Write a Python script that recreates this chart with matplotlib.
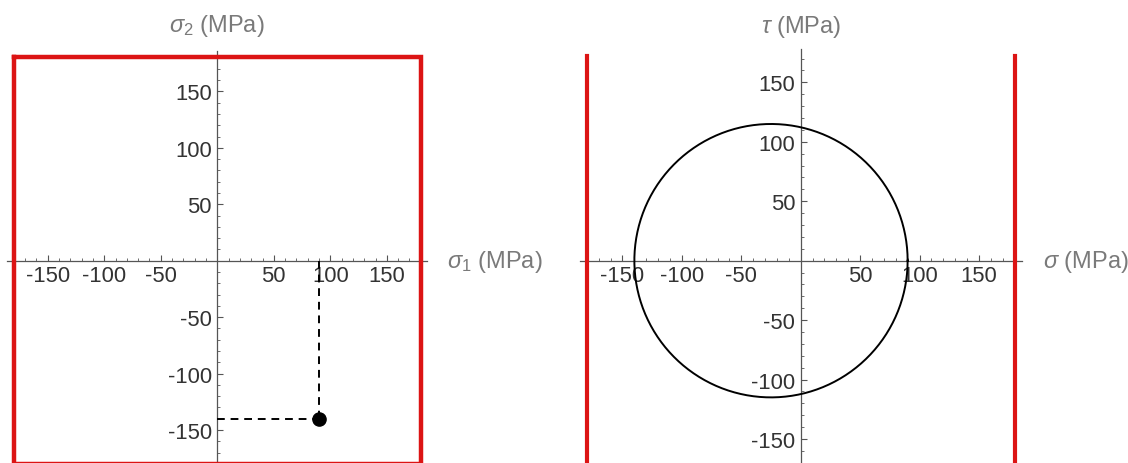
import numpy as np
import matplotlib
matplotlib.use("Agg")
import matplotlib.pyplot as plt
from matplotlib.ticker import FixedLocator

plt.rcParams['font.family'] = ['Liberation Sans', 'DejaVu Sans']
plt.rcParams['mathtext.fontset'] = 'custom'
plt.rcParams['mathtext.rm'] = 'Liberation Sans'
plt.rcParams['mathtext.it'] = 'Liberation Sans:italic'
plt.rcParams['axes.unicode_minus'] = False

# ---- data ----
sigma1 = 90.0          # MPa
sigma2 = -140.0        # MPa
strength = 180.0       # MPa, failure limit (square / vertical lines)
major_ticks = [-150, -100, -50, 50, 100, 150]
minor_ticks = [v for v in range(-180, 181, 10) if v % 50 != 0 and v != 0]
right_line_tau = [-180, 172]

RED = '#dc1414'
AXC = '#555555'
TICKC = '#333333'
LABC = '#7a7a7a'
FS = 15.8
LFS = 17

W, H = 1128, 464
fig = plt.figure(figsize=(W / 100, H / 100), dpi=100)


def px_axes(x0, x1, ytop, ybot):
    return fig.add_axes([x0 / W, (H - ybot) / H, (x1 - x0) / W, (ybot - ytop) / H])


def style(ax):
    for s in ['top', 'right']:
        ax.spines[s].set_visible(False)
    for s in ['left', 'bottom']:
        ax.spines[s].set_position('zero')
        ax.spines[s].set_color(AXC)
        ax.spines[s].set_linewidth(0.9)
    ax.xaxis.set_major_locator(FixedLocator(major_ticks))
    ax.yaxis.set_major_locator(FixedLocator(major_ticks))
    ax.xaxis.set_minor_locator(FixedLocator(minor_ticks))
    ax.yaxis.set_minor_locator(FixedLocator(minor_ticks))
    ax.tick_params(which='major', direction='in', length=4, width=0.8, color=AXC,
                   labelsize=FS, labelcolor=TICKC)
    ax.tick_params(which='minor', direction='in', length=2.2, width=0.6, color=AXC)
    ax.tick_params(axis='x', which='major', pad=3)
    ax.tick_params(axis='y', which='major', pad=4)
    ax.set_facecolor('none')


# ---- left panel: principal stress space ----
ax1 = px_axes(7.1, 427.5, 51.7, 464)
ax1.set_xlim(-186, 186)
ax1.set_ylim(-179.2, 186)
style(ax1)
sq_x = [-strength, strength, strength, -strength, -strength]
sq_y = [strength, strength, -strength, -strength, strength]
ax1.plot(sq_x, sq_y, color=RED, lw=3.2, clip_on=False, zorder=3, solid_joinstyle='miter')
ax1.plot([sigma1, sigma1], [0, sigma2], color='black', lw=1.4, ls=(0, (4, 3)), zorder=4)
ax1.plot([0, sigma1], [sigma2, sigma2], color='black', lw=1.4, ls=(0, (4, 3)), zorder=4)
ax1.plot([sigma1], [sigma2], 'o', color='black', ms=9.5, zorder=5)
ax1.text(0, 208.8, r'$\sigma_2$ (MPa)', ha='center', va='center', fontsize=LFS,
         color=LABC, clip_on=False)
ax1.text(203, 0, r'$\sigma_1$ (MPa)', ha='left', va='center', fontsize=LFS,
         color=LABC, clip_on=False)

# ---- right panel: Mohr circle ----
ax2 = px_axes(579.7, 1021.7, 50.1, 464)
ax2.set_xlim(-186, 186)
ax2.set_ylim(-170.2, 178)
style(ax2)
center = (sigma1 + sigma2) / 2
radius = (sigma1 - sigma2) / 2
th = np.linspace(0, 2 * np.pi, 400)
ax2.plot(center + radius * np.cos(th), radius * np.sin(th), color='black', lw=1.4, zorder=4)
for xv in [-strength, strength]:
    ax2.plot([xv, xv], right_line_tau, color=RED, lw=3.0, zorder=3)
ax2.text(0, 197.4, r'$\tau$ (MPa)', ha='center', va='center', fontsize=LFS,
         color=LABC, clip_on=False)
ax2.text(204, 0, r'$\sigma$ (MPa)', ha='left', va='center', fontsize=LFS,
         color=LABC, clip_on=False)

fig.savefig('out.png', dpi=100, facecolor='white')
